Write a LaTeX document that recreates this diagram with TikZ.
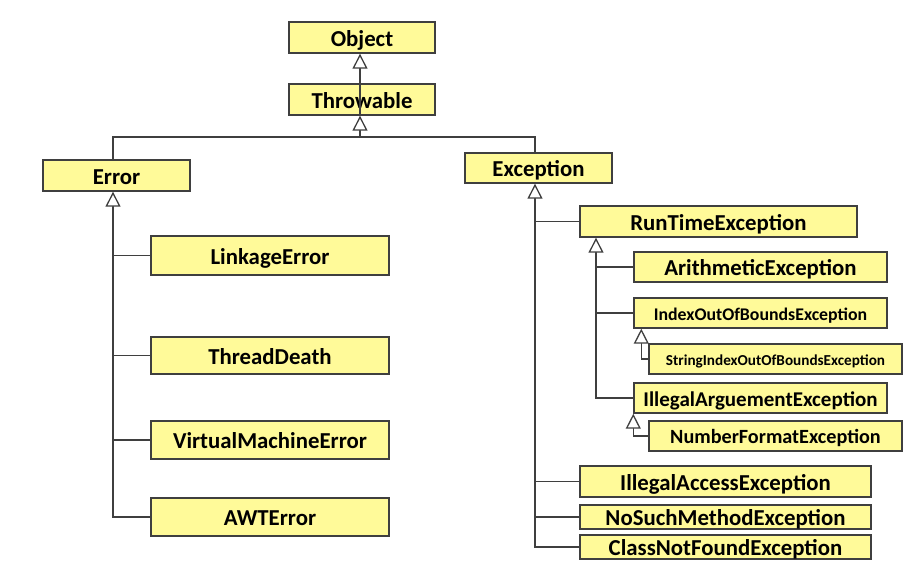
\documentclass[tikz,border=0pt]{standalone}
\usepackage{fontspec}
\setmainfont{Carlito}
\usetikzlibrary{arrows.meta}

\definecolor{umlyellow}{HTML}{FFFA99}
\definecolor{umlgray}{HTML}{3F3F3F}

\begin{document}
\begin{tikzpicture}[x=1pt,y=-1pt,
  klasse/.style={draw=umlgray,line width=1.4pt,fill=umlyellow,inner sep=0pt,
    font=\bfseries\fontsize{#1}{#1}\selectfont,
    text height={0.63*#1pt+3pt},text depth=0pt},
  klasse/.default=22.8,
  lijn/.style={umlgray,line width=1.3pt},
  erft/.style={lijn,-{Triangle[open,length=15pt,width=15pt,fill=white]}}]

  \useasboundingbox (0,0) rectangle (908,567);

  % klassen
  \node[klasse,minimum width=146,minimum height=31] (object) at (362,37.5) {Object};
  \node[klasse,minimum width=146,minimum height=31] (throwable) at (362,99.5) {Throwable};
  \node[klasse,minimum width=147,minimum height=31] (error) at (116.5,175.5) {Error};
  \node[klasse,minimum width=147,minimum height=30] (exception) at (538.5,168) {Exception};

  \node[klasse,minimum width=238,minimum height=39] (linkage) at (270,255.5) {LinkageError};
  \node[klasse,minimum width=238,minimum height=37] (thread) at (270,355.5) {ThreadDeath};
  \node[klasse,minimum width=238,minimum height=38] (vm) at (270,440) {VirtualMachineError};
  \node[klasse,minimum width=238,minimum height=38] (awt) at (270,517) {AWTError};

  \node[klasse,minimum width=277,minimum height=31] (runtime) at (718.5,221.5) {RunTimeException};
  \node[klasse,minimum width=253,minimum height=30] (arith) at (760.5,267) {ArithmeticException};
  \node[klasse=17.8,minimum width=253,minimum height=30] (index) at (760.5,313) {IndexOutOfBoundsException};
  \node[klasse=15.2,minimum width=253,minimum height=30] (strindex) at (775.5,359) {StringIndexOutOfBoundsException};
  \node[klasse=21,minimum width=253,minimum height=30] (illarg) at (760.5,398) {IllegalArguementException};
  \node[klasse=20.2,minimum width=253,minimum height=30] (numfmt) at (775.5,436) {NumberFormatException};

  \node[klasse,minimum width=291,minimum height=31] (illacc) at (725.5,481.5) {IllegalAccessException};
  \node[klasse,minimum width=291,minimum height=24] (nosuch) at (725.5,517) {NoSuchMethodException};
  \node[klasse,minimum width=291,minimum height=24] (classnf) at (725.5,547) {ClassNotFoundException};

  % stammen
  \coordinate (bus) at (360,137);
  \coordinate (errtrunk) at (113,0);
  \coordinate (exctrunk) at (535,0);
  \coordinate (rttrunk) at (596,0);

  % overerving
  \draw[erft] (throwable.south -| bus) -- (object.south -| bus);
  \draw[lijn] (error.north -| errtrunk) |- (bus) -| (exception.north -| exctrunk);
  \draw[erft] (bus) -- (throwable.south -| bus);

  \draw[erft] (awt.west) -| (error.south -| errtrunk);
  \foreach \k in {linkage,thread,vm}
    \draw[lijn] (\k.west) -- (\k.west -| errtrunk);

  \draw[erft] (classnf.west) -| (exception.south -| exctrunk);
  \foreach \k in {runtime,illacc,nosuch}
    \draw[lijn] (\k.west) -- (\k.west -| exctrunk);

  \draw[erft] (illarg.west) -| (runtime.south -| rttrunk);
  \foreach \k in {arith,index}
    \draw[lijn] (\k.west) -- (\k.west -| rttrunk);

  \draw[erft] (strindex.west) -| ([xshift=8]index.south west);
  \draw[erft] (numfmt.west) -| (illarg.south west);

\end{tikzpicture}
\end{document}
